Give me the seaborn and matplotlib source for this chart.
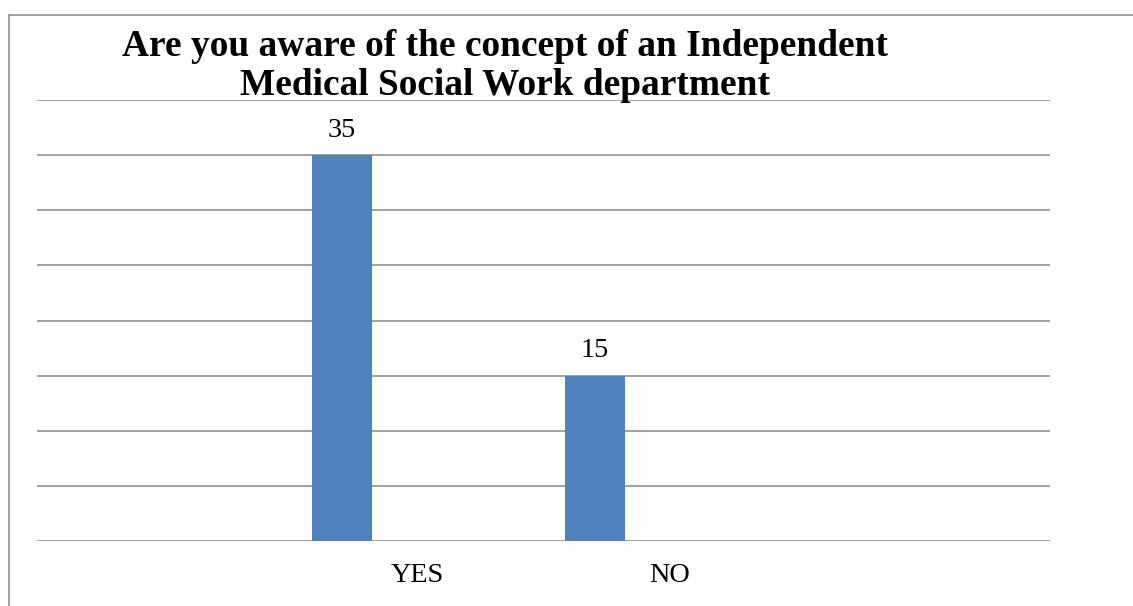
import matplotlib
matplotlib.use("Agg")
import matplotlib.pyplot as plt
import seaborn as sns
import pandas as pd
from matplotlib.lines import Line2D

# Survey responses
answers = ["YES", "NO"]
counts = [35, 15]
# The chart reserves room for three series per category; only the first holds data
series_levels = ["Series1", "Series2", "Series3"]
series = ["Series1", "Series1"]

title = "Are you aware of the concept of an Independent\nMedical Social Work department"

bar_color = "#4F81BD"
grid_color = "#878787"

sns.set_theme(style="white")
plt.rcParams["font.family"] = ["Liberation Serif", "DejaVu Serif"]

df = pd.DataFrame({"answer": answers, "count": counts, "series": series})

fig = plt.figure(figsize=(11.33, 6.06), dpi=100)
ax = fig.add_axes([37 / 1133, 1 - 541 / 606, (1050 - 37) / 1133, (541 - 100) / 606])

sns.barplot(
    data=df, x="answer", y="count", hue="series",
    order=answers, hue_order=series_levels, dodge=True,
    palette={lvl: bar_color for lvl in series_levels},
    width=0.888, gap=0.2, errorbar=None, legend=False,
    saturation=1, linewidth=0, edgecolor="none", ax=ax, zorder=3,
)

for container in ax.containers:
    if len(container):
        ax.bar_label(container, labels=[f"{v:g}" for v in container.datavalues],
                     padding=9, fontsize=20.3, color="black")

ax.set_xlim(-1.5, len(answers) + 0.5)
ax.set_ylim(0, 40)
ax.set_yticks(range(0, 41, 5))
ax.set_yticklabels([])
ax.yaxis.grid(True, color=grid_color, linewidth=1.1, zorder=0)
ax.set_axisbelow(True)
ax.tick_params(axis="x", length=0, pad=16, labelsize=20.3, labelcolor="black")
ax.tick_params(axis="y", length=0)
ax.set_xlabel("")
ax.set_ylabel("")
for s in ax.spines.values():
    s.set_visible(False)

fig.text(505 / 1133, 1 - 95 / 606, title, ha="center", va="baseline",
         fontsize=26.9, fontweight="bold", color="black", linespacing=1.15)

# Chart-area frame (left and top edges)
fig.add_artist(Line2D([9 / 1133, 9 / 1133], [0, 1 - 15 / 606],
                      transform=fig.transFigure, color=grid_color, linewidth=1.1))
fig.add_artist(Line2D([9 / 1133, 1], [1 - 15 / 606, 1 - 15 / 606],
                      transform=fig.transFigure, color=grid_color, linewidth=1.1))

fig.savefig("out.png", dpi=100, facecolor="white")
